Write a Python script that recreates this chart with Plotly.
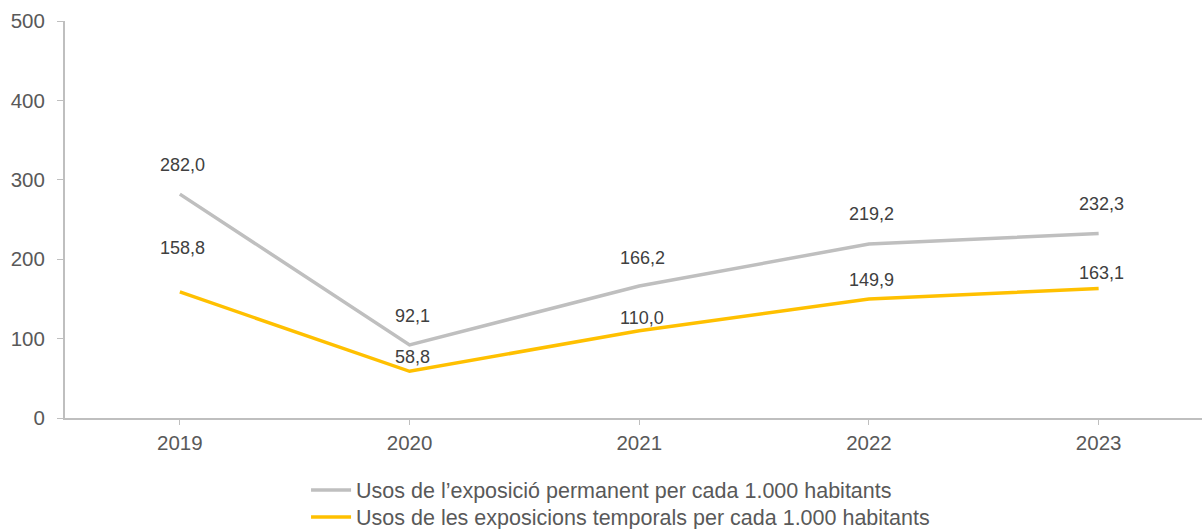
import plotly.graph_objects as go

years = ["2019", "2020", "2021", "2022", "2023"]
permanent = [282.0, 92.1, 166.2, 219.2, 232.3]
temporary = [158.8, 58.8, 110.0, 149.9, 163.1]
name_perm = "Usos de l\u2019exposició permanent per cada 1.000 habitants"
name_temp = "Usos de les exposicions temporals per cada 1.000 habitants"
y_ticks = [0, 100, 200, 300, 400, 500]

# label vertical offsets (px), style only
shift_perm = [29, 29, 28, 30, 30]
shift_temp = [44, 14, 13, 19, 16]

GRAY = "#BFBFBF"
YELLOW = "#FFC000"
FONT = "Liberation Sans, Arial, sans-serif"
TXT = "#595959"

fig = go.Figure()
fig.add_trace(go.Scatter(x=years, y=permanent, mode="lines", name=name_perm,
                         line=dict(color=GRAY, width=3.5), legend="legend"))
fig.add_trace(go.Scatter(x=years, y=temporary, mode="lines", name=name_temp,
                         line=dict(color=YELLOW, width=3.5), legend="legend2"))

def fmt(v):
    return f"{v:.1f}".replace(".", ",")

for vals, shifts in ((permanent, shift_perm), (temporary, shift_temp)):
    for i, (v, s) in enumerate(zip(vals, shifts)):
        fig.add_annotation(x=i, y=v, xref="x", yref="y", text=fmt(v), showarrow=False,
                           yshift=s, xshift=3,
                           font=dict(family=FONT, size=18, color="#404040"))

leg_common = dict(orientation="v", x=0.212, xref="paper", xanchor="left",
                  yref="container", yanchor="middle",
                  font=dict(family=FONT, size=21.5, color=TXT), itemwidth=40,
                  bgcolor="rgba(0,0,0,0)")
fig.update_layout(
    width=1202, height=529,
    margin=dict(l=65, r=0, t=21, b=111),
    paper_bgcolor="white", plot_bgcolor="white",
    font=dict(family=FONT, size=20, color=TXT),
    showlegend=True,
    legend=dict(y=0.0737, **leg_common),
    legend2=dict(y=0.0227, **leg_common),
)
fig.update_xaxes(type="category", range=[-0.5, 4.45], showline=True, linecolor=GRAY,
                 linewidth=2, ticks="outside", ticklen=5, tickcolor=GRAY, tickwidth=1,
                 showgrid=False, zeroline=False, tickfont=dict(size=20.5, color=TXT))
fig.update_yaxes(range=[0, 500], tickvals=y_ticks, showline=True, linecolor=GRAY,
                 linewidth=2, ticks="outside", ticklen=6, tickcolor=GRAY, tickwidth=1,
                 showgrid=False, zeroline=False, ticklabelstandoff=8,
                 tickfont=dict(size=20.5, color=TXT))

fig.write_html("out.html", config={"displayModeBar": False},
               post_script="document.body.style.margin='0';document.body.style.overflow='hidden';")
